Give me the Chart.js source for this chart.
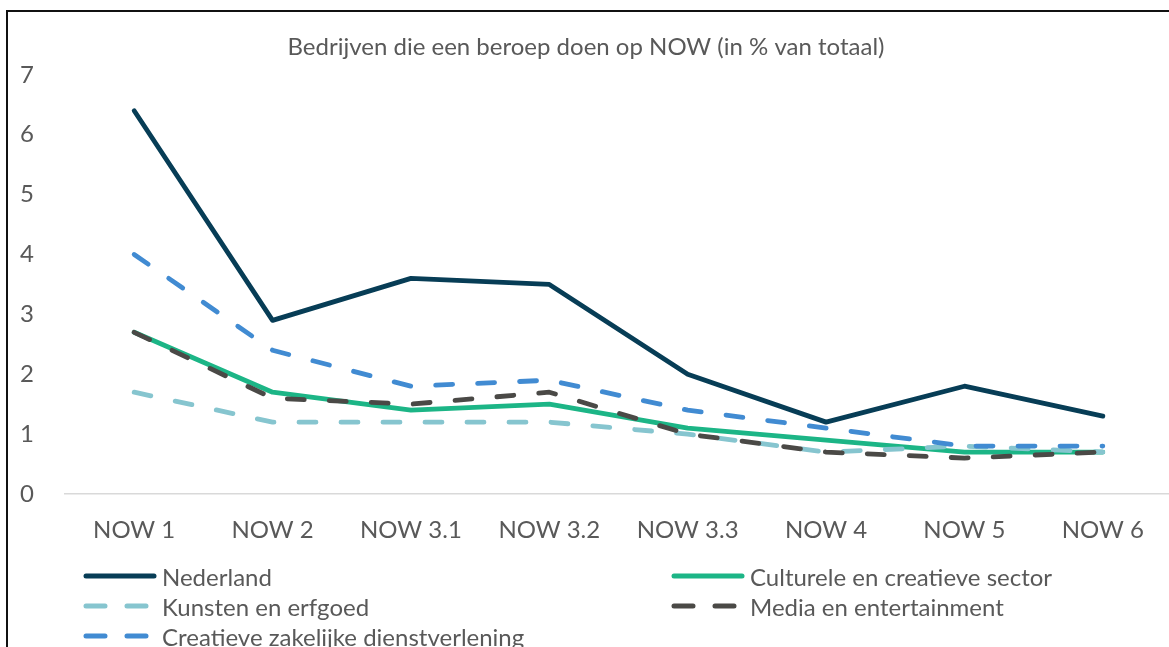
<!DOCTYPE html>
<html>
<head>
<meta charset="utf-8">
<script src="https://cdn.jsdelivr.net/npm/chart.js@4/dist/chart.umd.min.js"></script>
<style>
  html, body { margin: 0; padding: 0; background: #fff; overflow: hidden; }
  body { width: 1169px; height: 647px; position: relative; font-family: Lato, sans-serif; }
  #frame { position: absolute; left: 6px; top: 10px; width: 1200px; height: 700px; border: 2px solid #111; box-sizing: border-box; }
  #wrap { position: absolute; left: 0; top: 0; width: 1172px; height: 550px; }
  #legend { position: absolute; left: 0; top: 0; width: 1169px; height: 647px; pointer-events: none; }
  .item { position: absolute; height: 30px; display: flex; align-items: center; color: #595959; font-size: 24px; white-space: nowrap; }
  .item canvas { margin-right: 5px; }
</style>
</head>
<body>
<div id="frame"></div>
<div id="wrap"><canvas id="myChart"></canvas></div>
<div id="legend"></div>
<script>
// values
const categories = ['NOW 1', 'NOW 2', 'NOW 3.1', 'NOW 3.2', 'NOW 3.3', 'NOW 4', 'NOW 5', 'NOW 6'];
const nederland = [6.4, 2.9, 3.6, 3.5, 2.0, 1.2, 1.8, 1.3];
const cultureleSector = [2.7, 1.7, 1.4, 1.5, 1.1, 0.9, 0.7, 0.7];
const kunstenErfgoed = [1.7, 1.2, 1.2, 1.2, 1.0, 0.7, 0.8, 0.7];
const mediaEntertainment = [2.7, 1.6, 1.5, 1.7, 1.0, 0.7, 0.6, 0.7];
const creatieveZakelijk = [4.0, 2.4, 1.8, 1.9, 1.4, 1.1, 0.8, 0.8];
const yTicks = [0, 1, 2, 3, 4, 5, 6, 7];

const dash = [17, 25];
const textColor = '#595959';

function series(label, data, color, dashed, order) {
    return {
        label: label,
        data: data,
        borderColor: color,
        backgroundColor: color,
        borderWidth: 4.8,
        borderDash: dashed ? dash : [],
        borderCapStyle: 'round',
        borderJoinStyle: 'round',
        pointRadius: 0,
        pointHoverRadius: 0,
        tension: 0,
        fill: false,
        order: order
    };
}

const datasets = [
    series('Nederland', nederland, '#073d56', false, 5),
    series('Culturele en creatieve sector', cultureleSector, '#1cb586', false, 4),
    series('Kunsten en erfgoed', kunstenErfgoed, '#86c5cf', true, 3),
    series('Media en entertainment', mediaEntertainment, '#4a4946', true, 2),
    series('Creatieve zakelijke dienstverlening', creatieveZakelijk, '#418bd2', true, 1)
];

const ctx = document.getElementById('myChart').getContext('2d');

const myChart = new Chart(ctx, {
    type: 'line',
    data: {
        labels: categories,
        datasets: datasets
    },
    options: {
        responsive: true,
        maintainAspectRatio: false,
        animation: false,
        layout: { padding: { left: 0, right: 0, top: 0, bottom: 0 } },
        plugins: {
            legend: { display: false },
            tooltip: { enabled: false },
            title: {
                display: true,
                text: 'Bedrijven die een beroep doen op NOW (in % van totaal)',
                color: textColor,
                font: { family: 'Lato', size: 24, weight: 'normal' },
                padding: { top: 33, bottom: 13 }
            }
        },
        scales: {
            x: {
                offset: true,
                grid: { display: false },
                border: { display: true, color: '#d9d9d9', width: 1.5 },
                ticks: {
                    color: textColor,
                    font: { family: 'Lato', size: 24 },
                    padding: 14,
                    maxRotation: 0
                },
                afterFit: function (scale) { scale.height = 56; }
            },
            y: {
                min: 0,
                max: 7,
                afterBuildTicks: function (scale) {
                    scale.ticks = yTicks.map(function (v) { return { value: v }; });
                },
                grid: { display: false },
                border: { display: false },
                ticks: {
                    color: textColor,
                    font: { family: 'Lato', size: 24 },
                    padding: 23
                },
                afterFit: function (scale) { scale.width = 65; }
            }
        }
    }
});

// legend in two columns, like the original
const legendPos = [
    [83, 576], [671, 576],
    [83, 606], [671, 606],
    [83, 636]
];
const legendEl = document.getElementById('legend');
myChart.data.datasets.forEach(function (ds, i) {
    const item = document.createElement('div');
    item.className = 'item';
    item.style.left = legendPos[i][0] + 'px';
    item.style.top = (legendPos[i][1] - 15) + 'px';
    const c = document.createElement('canvas');
    c.width = 74; c.height = 12;
    const g = c.getContext('2d');
    g.strokeStyle = ds.borderColor;
    g.lineWidth = 5;
    g.lineCap = 'round';
    g.setLineDash(ds.borderDash.length ? [19, 22] : []);
    g.beginPath();
    g.moveTo(3, 6);
    g.lineTo(ds.borderDash.length ? 68 : 71, 6);
    g.stroke();
    item.appendChild(c);
    const t = document.createElement('span');
    t.textContent = ds.label;
    item.appendChild(t);
    legendEl.appendChild(item);
});
</script>
</body>
</html>
